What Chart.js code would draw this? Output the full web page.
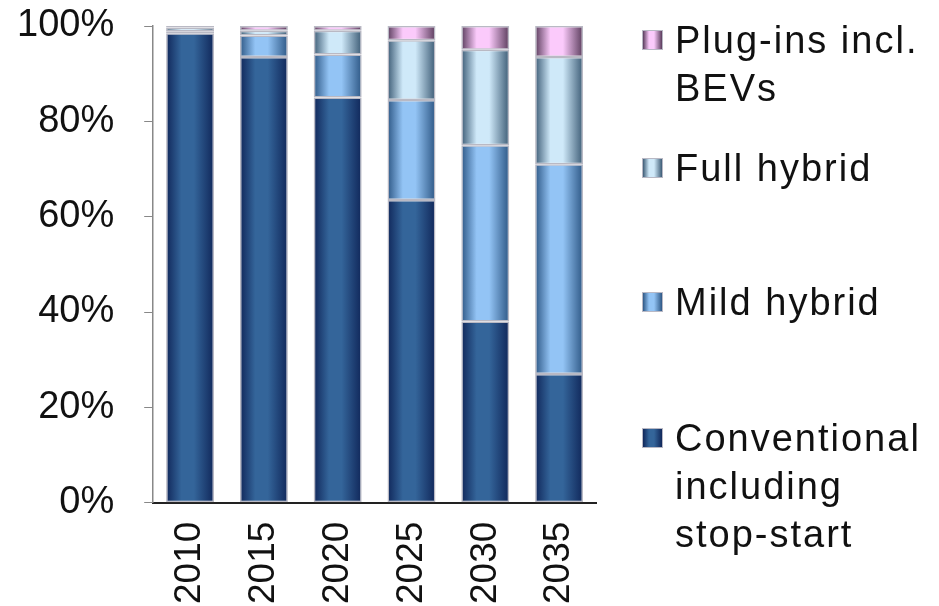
<!DOCTYPE html>
<html>
<head>
<meta charset="utf-8">
<script src="https://cdn.jsdelivr.net/npm/chart.js@4.4.1/dist/chart.umd.min.js"></script>
<style>
  body { margin: 0; background: #fff; }
  #wrap { position: relative; width: 939px; height: 606px; }
  #legend { position: absolute; left: 642px; top: 0; font-family: "Liberation Sans", Arial, sans-serif; font-size: 38px; letter-spacing: 2px; color: #111; }
  .item { position: relative; padding-left: 33px; width: 262px; line-height: 48px; }
  .item span { white-space: nowrap; }
  .mark { position: absolute; left: 0; top: 14px; width: 21px; height: 20px; box-sizing: border-box; border: 1px solid #b8b8c4; }
</style>
</head>
<body>
<div id="wrap">
  <canvas id="chart" width="939" height="606"></canvas>
  <div id="legend"></div>
</div>
<script>
var years = ['2010', '2015', '2020', '2025', '2030', '2035'];
var conventional = [98.5, 93.5, 85, 63.5, 38, 27];
var mildHybrid = [0.4, 4.5, 9, 21, 37, 44];
var fullHybrid = [0.8, 1, 5, 12.5, 20, 22.5];
var plugIns = [0.3, 1, 1, 3, 5, 6.5];
var yTicks = [0, 20, 40, 60, 80, 100];

// edge / centre colours of the shaded bars
var shades = {
    conv: ['#10275a', '#34659a'],
    mild: ['#2e5886', '#93c4f5'],
    full: ['#3d5c76', '#cfe9f9'],
    plug: ['#5a3c5c', '#fbcafb']
};

var barPct = 0.65;

function shaded(key) {
    var c = shades[key];
    return function (context) {
        var chart = context.chart;
        var xs = chart.scales && chart.scales.x;
        if (!chart.chartArea || !xs || context.dataIndex === undefined) return c[1];
        var x = xs.getPixelForValue(context.dataIndex);
        var w = xs.width / years.length * barPct;
        var g = chart.ctx.createLinearGradient(x - w / 2, 0, x + w / 2, 0);
        g.addColorStop(0, c[0]);
        g.addColorStop(0.32, c[1]);
        g.addColorStop(0.58, c[1]);
        g.addColorStop(1, c[0]);
        return g;
    };
}

function ds(label, data, key) {
    return {
        label: label,
        data: data,
        shade: key,
        backgroundColor: shaded(key),
        borderColor: '#b9b9c4',
        borderWidth: 1.5,
        borderSkipped: false,
        categoryPercentage: 1,
        barPercentage: barPct
    };
}

var ctx = document.getElementById('chart');
var chart = new Chart(ctx, {
    type: 'bar',
    data: {
        labels: years,
        datasets: [
            ds('Conventional including stop-start', conventional, 'conv'),
            ds('Mild hybrid', mildHybrid, 'mild'),
            ds('Full hybrid', fullHybrid, 'full'),
            ds('Plug-ins incl. BEVs', plugIns, 'plug')
        ]
    },
    options: {
        responsive: false,
        animation: false,
        layout: { padding: { left: -13, right: 343, top: 26, bottom: -9 } },
        plugins: {
            legend: { display: false },
            tooltip: { enabled: false }
        },
        scales: {
            x: {
                stacked: true,
                grid: { display: false },
                border: { color: '#222', width: 2 },
                ticks: {
                    color: '#111',
                    minRotation: 90,
                    maxRotation: 90,
                    padding: 11,
                    font: { family: 'Liberation Sans', size: 37 }
                }
            },
            y: {
                stacked: true,
                min: 0,
                max: 100,
                afterBuildTicks: function (axis) {
                    axis.ticks = yTicks.map(function (v) { return { value: v }; });
                },
                afterFit: function (axis) {
                    axis.paddingTop = 0;
                },
                grid: { drawOnChartArea: false, tickLength: 9, color: '#888' },
                border: { color: '#888', width: 1.5 },
                ticks: {
                    color: '#111',
                    padding: 30,
                    font: { family: 'Liberation Sans', size: 38 },
                    callback: function (v) { return v + '%'; }
                }
            }
        }
    }
});

// legend, top to bottom in reverse stacking order
var gaps = [16, 32, 86, 88];
var legend = document.getElementById('legend');
chart.data.datasets.slice().reverse().forEach(function (d, i) {
    var c = shades[d.shade];
    var item = document.createElement('div');
    item.className = 'item';
    item.style.marginTop = gaps[i] + 'px';
    var mark = document.createElement('div');
    mark.className = 'mark';
    mark.style.background = 'linear-gradient(to right, ' + c[0] + ', ' + c[1] + ' 32%, ' + c[1] + ' 58%, ' + c[0] + ')';
    item.appendChild(mark);
    d.label.split(' ').forEach(function (w, j) {
        if (j > 0) item.appendChild(document.createTextNode(' '));
        var s = document.createElement('span');
        s.textContent = w;
        item.appendChild(s);
    });
    legend.appendChild(item);
});
</script>
</body>
</html>
